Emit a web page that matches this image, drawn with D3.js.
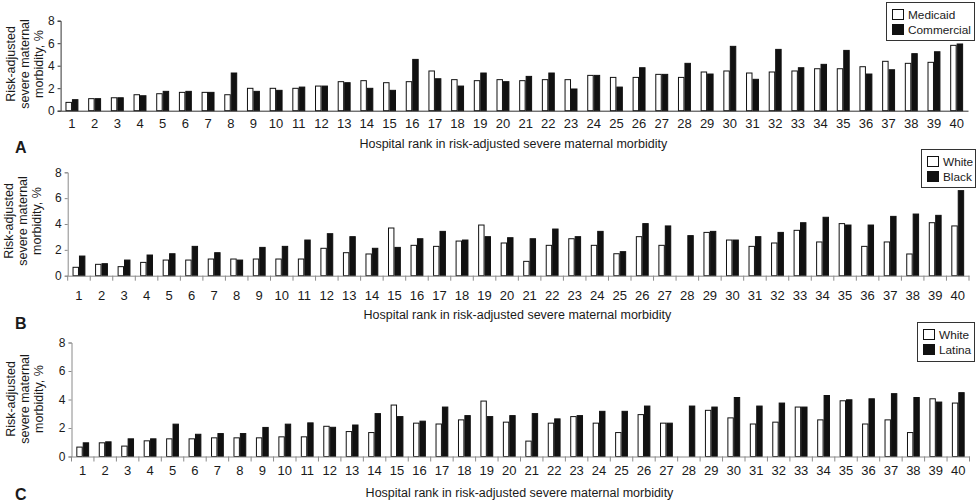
<!DOCTYPE html>
<html lang="en">
<head>
<meta charset="utf-8" />
<title>Risk-adjusted severe maternal morbidity by hospital rank</title>
<script src="https://cdn.jsdelivr.net/npm/d3@7"></script>
<style>
	body { margin: 0; background: #fff; }
	svg { display: block; font-family: "Liberation Sans", Arial, sans-serif; }
</style>
</head>
<body>
<svg id="chart" width="980" height="503"></svg>
<script>
// hospital ranks 1..40 (x categories)
var ranks = ["1","2","3","4","5","6","7","8","9","10","11","12","13","14","15","16","17","18","19","20",
	"21","22","23","24","25","26","27","28","29","30","31","32","33","34","35","36","37","38","39","40"];
var yTicks = [0, 2, 4, 6, 8];

// panel A: payer
var medicaid = [0.74,1.07,1.15,1.42,1.51,1.63,1.63,1.42,1.99,1.99,1.99,2.19,2.58,2.67,2.49,2.58,3.53,2.76,2.67,2.76,
	2.67,2.76,2.76,3.14,2.96,2.96,3.23,2.96,3.44,3.53,3.35,3.44,3.53,3.73,3.73,3.91,4.39,4.21,4.30,5.81];
var commercial = [0.98,1.07,1.15,1.33,1.72,1.72,1.63,3.35,1.72,1.81,2.10,2.19,2.49,1.99,1.81,4.56,2.84,2.19,3.35,2.58,
	3.05,3.35,1.93,3.14,2.10,3.82,3.23,4.21,3.26,5.72,2.79,5.45,3.82,4.12,5.36,3.26,3.64,5.07,5.24,5.93];

// panel B: white vs black
var whiteB = [0.65,0.88,0.70,1.03,1.21,1.21,1.29,1.29,1.29,1.29,1.29,2.12,1.78,1.68,3.69,2.35,2.27,2.68,3.92,2.53,
	1.11,2.35,2.86,2.35,1.70,3.02,2.35,0,3.35,2.76,2.27,2.53,3.51,2.61,4.03,2.27,2.61,1.68,4.10,3.85];
var black = [1.52,0.93,1.21,1.60,1.70,2.27,1.78,1.21,2.19,2.27,2.76,3.25,3.02,2.12,2.19,2.86,3.43,2.76,3.02,2.94,
	2.86,3.61,3.02,3.43,1.86,4.03,3.85,3.10,3.43,2.76,3.02,3.35,4.10,4.52,3.92,3.92,4.59,4.77,4.67,6.58];

// panel C: white vs latina
var whiteC = [0.66,0.96,0.73,1.10,1.24,1.24,1.31,1.31,1.31,1.38,1.38,2.12,1.75,1.68,3.61,2.34,2.28,2.57,3.89,2.41,
	1.08,2.34,2.80,2.34,1.68,2.94,2.34,0,3.24,2.71,2.28,2.41,3.47,2.57,3.91,2.28,2.57,1.68,4.05,3.75];
var latina = [0.96,1.03,1.24,1.24,2.27,1.56,1.61,1.61,2.04,2.27,2.36,2.05,2.21,3.01,2.80,2.48,3.47,2.87,2.80,2.87,
	3.01,2.64,2.87,3.17,3.17,3.54,2.34,3.54,3.47,4.14,3.54,3.75,3.47,4.28,3.98,4.05,4.41,4.14,3.82,4.48];

var panels = [
	{ letter: "A", names: ["Medicaid", "Commercial"], values: [medicaid, commercial],
	  left: 60.6, right: 968, top: 20.7, bottom: 110.7, axisColor: "#333", boundaryTicks: false,
	  tickY: 128, titleY: 148, letterY: 153, yTitleX: 10.5, yTitleY: 64,
	  legend: { x: 886.5, y: 2.5, w: 88, h: 38 } },
	{ letter: "B", names: ["White", "Black"], values: [whiteB, black],
	  left: 67.7, right: 969, top: 172.3, bottom: 275.7, axisColor: "#8a8a8a", boundaryTicks: true,
	  tickY: 300, titleY: 319, letterY: 329, yTitleX: 9, yTitleY: 221,
	  legend: { x: 921.5, y: 149.5, w: 54, h: 38 } },
	{ letter: "C", names: ["White", "Latina"], values: [whiteC, latina],
	  left: 71.5, right: 969.5, top: 342.5, bottom: 456.5, axisColor: "#8a8a8a", boundaryTicks: true,
	  tickY: 475, titleY: 497, letterY: 500, yTitleX: 11, yTitleY: 399,
	  legend: { x: 917.5, y: 322.5, w: 57, h: 39 } }
];

var fills = ["#fff", "#111"];
var svg = d3.select("#chart");

panels.forEach(drawPanel);

function drawPanel(p) {
	var g = svg.append("g");

	var x0 = d3.scaleBand().domain(ranks).range([p.left, p.right])
		.paddingInner(0.43).paddingOuter(0.215);
	var x1 = d3.scaleBand().domain([0, 1]).range([0, x0.bandwidth()]);
	var y = d3.scaleLinear().domain([0, 8]).range([p.bottom, p.top]);

	// bars
	p.values.forEach(function(vals, si) {
		g.append("g").selectAll("rect")
			.data(vals.map(function(v, i) { return { rank: ranks[i], v: v }; }).filter(function(d) { return d.v > 0; }))
			.enter().append("rect")
			.attr("x", function(d) { return x0(d.rank) + x1(si) + 0.5; })
			.attr("y", function(d) { return y(d.v); })
			.attr("width", x1.bandwidth() - 1)
			.attr("height", function(d) { return y(0) - y(d.v); })
			.attr("fill", fills[si])
			.attr("stroke", "#111")
			.attr("stroke-width", 1);
	});

	// y axis
	var yAxis = g.append("g")
		.attr("transform", "translate(" + p.left + ",0)")
		.call(d3.axisLeft(y).tickValues(yTicks).tickSize(3).tickPadding(3));
	yAxis.select(".domain").attr("stroke", p.axisColor);
	yAxis.selectAll(".tick line").attr("stroke", p.axisColor);
	yAxis.selectAll("text").attr("font-size", 12).attr("fill", "#1a1a1a").attr("font-family", null);

	// x axis line + labels
	var xAxis = g.append("g")
		.attr("transform", "translate(0," + p.bottom + ")")
		.call(d3.axisBottom(x0).tickSize(0).tickPadding(0));
	xAxis.select(".domain").attr("stroke", p.axisColor);
	xAxis.selectAll("text")
		.attr("font-size", 13).attr("fill", "#1a1a1a").attr("font-family", null)
		.attr("dy", null).attr("y", p.tickY - p.bottom);

	// tick marks between categories (panels B, C)
	if (p.boundaryTicks) {
		var half = (x0.step() - x0.bandwidth()) / 2;
		var last = ranks[ranks.length - 1];
		g.append("g").selectAll("line")
			.data(ranks.concat(["end"]))
			.enter().append("line")
			.attr("x1", function(d) { return d === "end" ? x0(last) + x0.bandwidth() + half : x0(d) - half; })
			.attr("x2", function(d) { return d === "end" ? x0(last) + x0.bandwidth() + half : x0(d) - half; })
			.attr("y1", p.bottom)
			.attr("y2", p.bottom + 5)
			.attr("stroke", p.axisColor);
	}

	// axis titles
	g.append("text")
		.attr("x", (p.left + p.right) / 2 - 1)
		.attr("y", p.titleY)
		.attr("text-anchor", "middle")
		.attr("font-size", 12.5)
		.attr("fill", "#1a1a1a")
		.text("Hospital rank in risk-adjusted severe maternal morbidity");

	var yt = g.append("text")
		.attr("transform", "translate(" + p.yTitleX + "," + p.yTitleY + ") rotate(-90)")
		.attr("text-anchor", "middle")
		.attr("font-size", 12.5)
		.attr("fill", "#1a1a1a");
	["Risk-adjusted", "severe maternal", "morbidity, %"].forEach(function(line, i) {
		yt.append("tspan").attr("x", 0).attr("y", 4 + i * 14).text(line);
	});

	// panel letter
	g.append("text")
		.attr("x", 15)
		.attr("y", p.letterY)
		.attr("font-size", 16)
		.attr("font-weight", "bold")
		.attr("fill", "#1a1a1a")
		.text(p.letter);

	// legend
	var lg = g.append("g").attr("transform", "translate(" + p.legend.x + "," + p.legend.y + ")");
	lg.append("rect")
		.attr("width", p.legend.w).attr("height", p.legend.h)
		.attr("fill", "#fff").attr("stroke", "#333");
	p.names.forEach(function(name, i) {
		lg.append("rect")
			.attr("x", 6).attr("y", 7 + i * 15)
			.attr("width", 11).attr("height", 10)
			.attr("fill", fills[i]).attr("stroke", "#111");
		lg.append("text")
			.attr("x", 21.5).attr("y", 16 + i * 15)
			.attr("font-size", 11.8)
			.attr("fill", "#1a1a1a")
			.text(name);
	});
}
</script>
</body>
</html>
